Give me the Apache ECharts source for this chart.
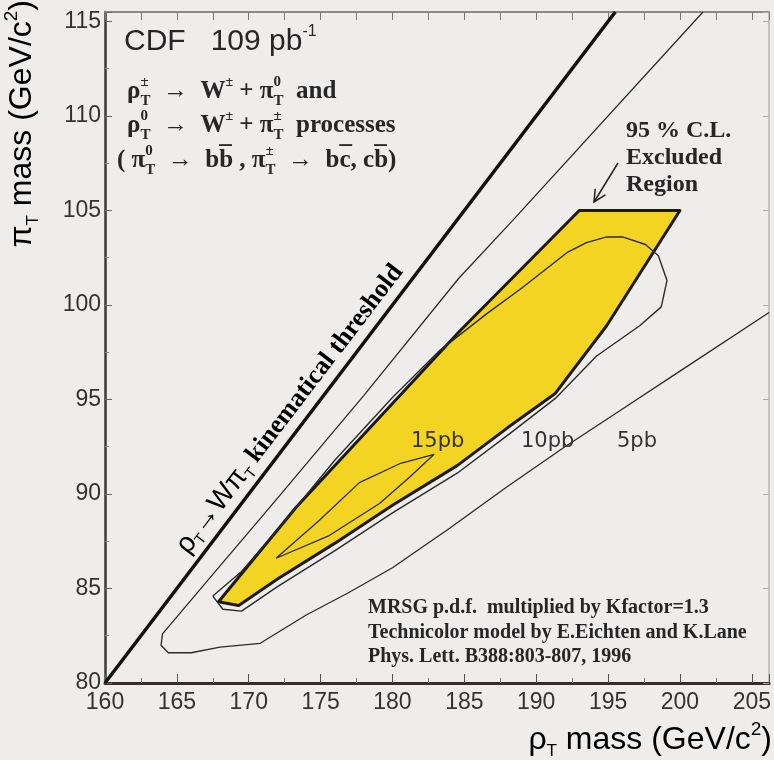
<!DOCTYPE html>
<html><head><meta charset="utf-8">
<script src="https://cdn.jsdelivr.net/npm/echarts@6/dist/echarts.min.js"></script>
<style>html,body{margin:0;padding:0;background:#efedec}#c{width:774px;height:760px}</style>
</head><body><div id="c"></div>
<script>
// axis ranges and ticks
const xRange = [160, 206.2];
const yRange = [80, 115.5];
const xTicks = [160, 165, 170, 175, 180, 185, 190, 195, 200, 205];
const yTicks = [80, 85, 90, 95, 100, 105, 110, 115];
// kinematical threshold line
const threshold = [[160, 80], [195.5, 115.5]];
// 95% C.L. excluded region (polygon)
const excluded = [[167.9,84.3],[173.3,89.3],[184.65,98.6],[193,105],[200,105],[194.9,98.9],[191.3,95.3],[188,93.5],[184.5,91.5],[180,89.4],[176,87.4],[172,85.5],[169.3,84.1]];
// cross-section contours
const c15 = [[171.9,86.6],[174.9,88.6],[177.7,90.6],[180.5,91.6],[182.9,92.1],[181.2,90.9],[179.1,89.5],[175.6,87.8],[171.9,86.6]];
const c10 = [[167.5,84.6],[168.2,83.9],[169.5,83.8],[172,85.1],[176,87.0],[180,89.0],[184.5,91.1],[188,93.1],[191.4,95.1],[194.2,97.3],[197.2,98.9],[198.7,99.9],[199.1,101.3],[198.5,102.6],[197.6,103.2],[196,103.6],[194.9,103.6],[193.5,103.3],[192.2,102.8],[189,100.9],[186.5,99.5],[183.3,97.6],[180,95.1],[176,91.8],[172,88.1],[169.5,85.9],[167.5,84.6]];
const c5 = [[201.6,115.5],[188.4,104.5],[184.6,101.4],[178,95.2],[171.8,89.6],[167,85.3],[164,82.6],[163.9,82.0],[164.4,81.6],[166,81.6],[168,81.9],[170.8,82.1],[174,83.6],[177,84.8],[180,86.1],[184,88.2],[188,90.4],[192,92.5],[196,94.5],[200,96.5],[206.2,99.6]];
const contourLabels = ['15pb', '10pb', '5pb'];

const SANS = '"Liberation Sans", Arial, Helvetica, sans-serif';
const WIDE = '"DejaVu Sans", Verdana, sans-serif';
const SERIF = '"Liberation Serif", "Times New Roman", serif';
const fmt = v => (Math.abs(v - Math.round(v / 5) * 5) < 1e-6 ? String(Math.round(v)) : '');

const chart = echarts.init(document.getElementById('c'));
const lineS = (data, w, col) => ({type: 'line', data: data, showSymbol: false, symbol: 'none', silent: true,
  lineStyle: {color: col, width: w}, z: 3, animation: false});

const procRich = {
  m: {fontFamily: SERIF, fontWeight: 'bold', fontSize: 25, lineHeight: 34, color: '#262626'},
  sup: {fontFamily: SERIF, fontWeight: 'bold', fontSize: 15, lineHeight: 34, verticalAlign: 'top', width: 0, color: '#262626'},
  sub: {fontFamily: SERIF, fontWeight: 'bold', fontSize: 15, lineHeight: 34, verticalAlign: 'bottom', color: '#262626'},
  sp: {fontFamily: SERIF, fontWeight: 'bold', fontSize: 14, lineHeight: 34, verticalAlign: 'top', color: '#262626'},
  bar: {fontFamily: SERIF, fontWeight: 'bold', fontSize: 25, lineHeight: 25, verticalAlign: 'top', width: 0, color: '#262626'}
};
const txt = (x, y, text, font, size, extra) => Object.assign({type: 'text', x: x, y: y, z: 50, silent: true,
  style: Object.assign({text: text, fontFamily: font, fontSize: size, fill: '#262626'}, extra || {})});

chart.setOption({
  backgroundColor: '#efedec',
  animation: false,
  grid: {left: 105, right: 4, top: 12, bottom: 77},
  xAxis: [{
    type: 'value', min: xRange[0], max: xRange[1], interval: 5,
    axisLine: {lineStyle: {color: '#3a2c2e', width: 3}},
    axisTick: {inside: true, length: 9, lineStyle: {color: '#555', width: 1}},
    minorTick: {show: true, splitNumber: 2, length: 5, lineStyle: {color: '#777'}},
    splitLine: {show: false},
    axisLabel: {formatter: fmt, fontFamily: SANS, fontSize: 23, color: '#333', margin: 8}
  }, {
    type: 'value', position: 'top', min: xRange[0], max: xRange[1], interval: 2.5,
    axisLine: {lineStyle: {color: '#8a8a86', width: 2}},
    axisTick: {inside: true, length: 8, lineStyle: {color: '#777'}},
    axisLabel: {show: false}, splitLine: {show: false}
  }],
  yAxis: [{
    type: 'value', min: yRange[0], max: yRange[1], interval: 5,
    axisLine: {lineStyle: {color: '#3a3a3a', width: 2.5}},
    axisTick: {inside: true, length: 7, lineStyle: {color: '#666'}},
    minorTick: {show: true, splitNumber: 2, length: 4, lineStyle: {color: '#888'}},
    splitLine: {show: false},
    axisLabel: {formatter: fmt, fontFamily: SANS, fontSize: 23, color: '#333', margin: 4}
  }, {
    type: 'value', position: 'right', min: yRange[0], max: yRange[1], interval: 5,
    axisLine: {show: true, lineStyle: {color: '#b8b6b4', width: 1.5}},
    axisTick: {inside: true, length: 6, lineStyle: {color: '#aaa'}},
    axisLabel: {show: false}, splitLine: {show: false}
  }],
  series: [
    {type: 'custom', silent: true, z: 2, data: [excluded[0]],
      renderItem: function (params, api) {
        const pts = excluded.map(p => api.coord(p));
        return {type: 'polygon', shape: {points: pts},
          style: {fill: '#f3d422', stroke: '#1c1a14', lineWidth: 3, lineJoin: 'round'}};
      }},
    lineS(threshold, 3.5, '#111'),
    lineS(c10, 1.4, '#2a2a2a'),
    lineS(c15, 1.3, '#2a2a2a'),
    lineS(c5, 1.3, '#2a2a2a')
  ],
  graphic: [
    txt(124, 42, '{c|CDF   109 pb}{s|-1}', SANS, 30, {verticalAlign: 'middle',
      rich: {c: {fontFamily: SANS, fontSize: 30, color: '#333', lineHeight: 36}, s: {fontFamily: SANS, fontSize: 16, color: '#333', verticalAlign: 'top', lineHeight: 36}}}),
    txt(127, 92, '{m|ρ}{sup|±}{sub|T}{m|  →  W}{sp|±}{m| + π}{sup|0}{sub|T}{m|  and}', SERIF, 25, {verticalAlign: 'middle', rich: procRich}),
    txt(127, 126, '{m|ρ}{sup|0}{sub|T}{m|  →  W}{sp|±}{m| + π}{sup|±}{sub|T}{m|  processes}', SERIF, 25, {verticalAlign: 'middle', rich: procRich}),
    txt(117, 161, '{m|( π}{sup|0}{sub|T}{m|  →  b}{bar|¯}{m|b , π}{sup|±}{sub|T}{m|  →  b}{bar|¯}{m|c, c}{bar|¯}{m|b)}', SERIF, 25, {verticalAlign: 'middle', rich: procRich}),
    txt(626, 131, '95 % C.L.', SERIF, 24, {fontWeight: 'bold', verticalAlign: 'middle'}),
    txt(626, 158, 'Excluded', SERIF, 24, {fontWeight: 'bold', verticalAlign: 'middle'}),
    txt(626, 185, 'Region', SERIF, 24, {fontWeight: 'bold', verticalAlign: 'middle'}),
    {type: 'line', z: 50, silent: true, shape: {x1: 618, y1: 163, x2: 594, y2: 202}, style: {stroke: '#222', lineWidth: 1.5}},
    {type: 'polyline', z: 50, silent: true, shape: {points: [[605.4, 194.9], [594, 202], [595.2, 188.7]]}, style: {stroke: '#222', lineWidth: 1.5, fill: null}},
    txt(411, 442, contourLabels[0], WIDE, 21, {verticalAlign: 'middle', fill: '#333'}),
    txt(521, 442, contourLabels[1], WIDE, 21, {verticalAlign: 'middle', fill: '#333'}),
    txt(617, 442, contourLabels[2], WIDE, 21, {verticalAlign: 'middle', fill: '#333'}),
    {type: 'text', x: 290, y: 409, z: 50, rotation: 0.918, silent: true,
      style: {text: '{s|ρ}{ss|T}{s|→Wπ}{ss|T}{b| kinematical threshold}', align: 'center', verticalAlign: 'middle',
        rich: {s: {fontFamily: SANS, fontSize: 28, color: '#222', lineHeight: 32},
               ss: {fontFamily: SANS, fontSize: 15, color: '#222', verticalAlign: 'bottom', lineHeight: 32},
               b: {fontFamily: SERIF, fontWeight: 'bold', fontSize: 26, color: '#1e1e1e', lineHeight: 32}}}},
    txt(368, 608, 'MRSG p.d.f.  multiplied by Kfactor=1.3', SERIF, 20, {fontWeight: 'bold', verticalAlign: 'middle'}),
    txt(368, 633, 'Technicolor model by E.Eichten and K.Lane', SERIF, 20, {fontWeight: 'bold', verticalAlign: 'middle'}),
    txt(368, 657, 'Phys. Lett. B388:803-807, 1996', SERIF, 20, {fontWeight: 'bold', verticalAlign: 'middle'}),
    {type: 'text', x: 772, y: 740, z: 50, silent: true,
      style: {text: '{a|ρ}{s|T}{a| mass (GeV/c}{p|2}{a|)}', align: 'right', verticalAlign: 'middle',
        rich: {a: {fontFamily: SANS, fontSize: 32, color: '#333', lineHeight: 40},
               s: {fontFamily: SANS, fontSize: 17, color: '#333', verticalAlign: 'bottom', lineHeight: 40},
               p: {fontFamily: SANS, fontSize: 19, color: '#333', verticalAlign: 'top', lineHeight: 40}}}},
    {type: 'text', x: 22, y: 0, z: 50, rotation: Math.PI / 2, silent: true,
      style: {text: '{a|π}{s|T}{a| mass (GeV/c}{p|2}{a|)}', align: 'right', verticalAlign: 'middle',
        rich: {a: {fontFamily: SANS, fontSize: 32, color: '#333', lineHeight: 40},
               s: {fontFamily: SANS, fontSize: 17, color: '#333', verticalAlign: 'bottom', lineHeight: 40},
               p: {fontFamily: SANS, fontSize: 19, color: '#333', verticalAlign: 'top', lineHeight: 40}}}}
  ]
});
</script></body></html>
